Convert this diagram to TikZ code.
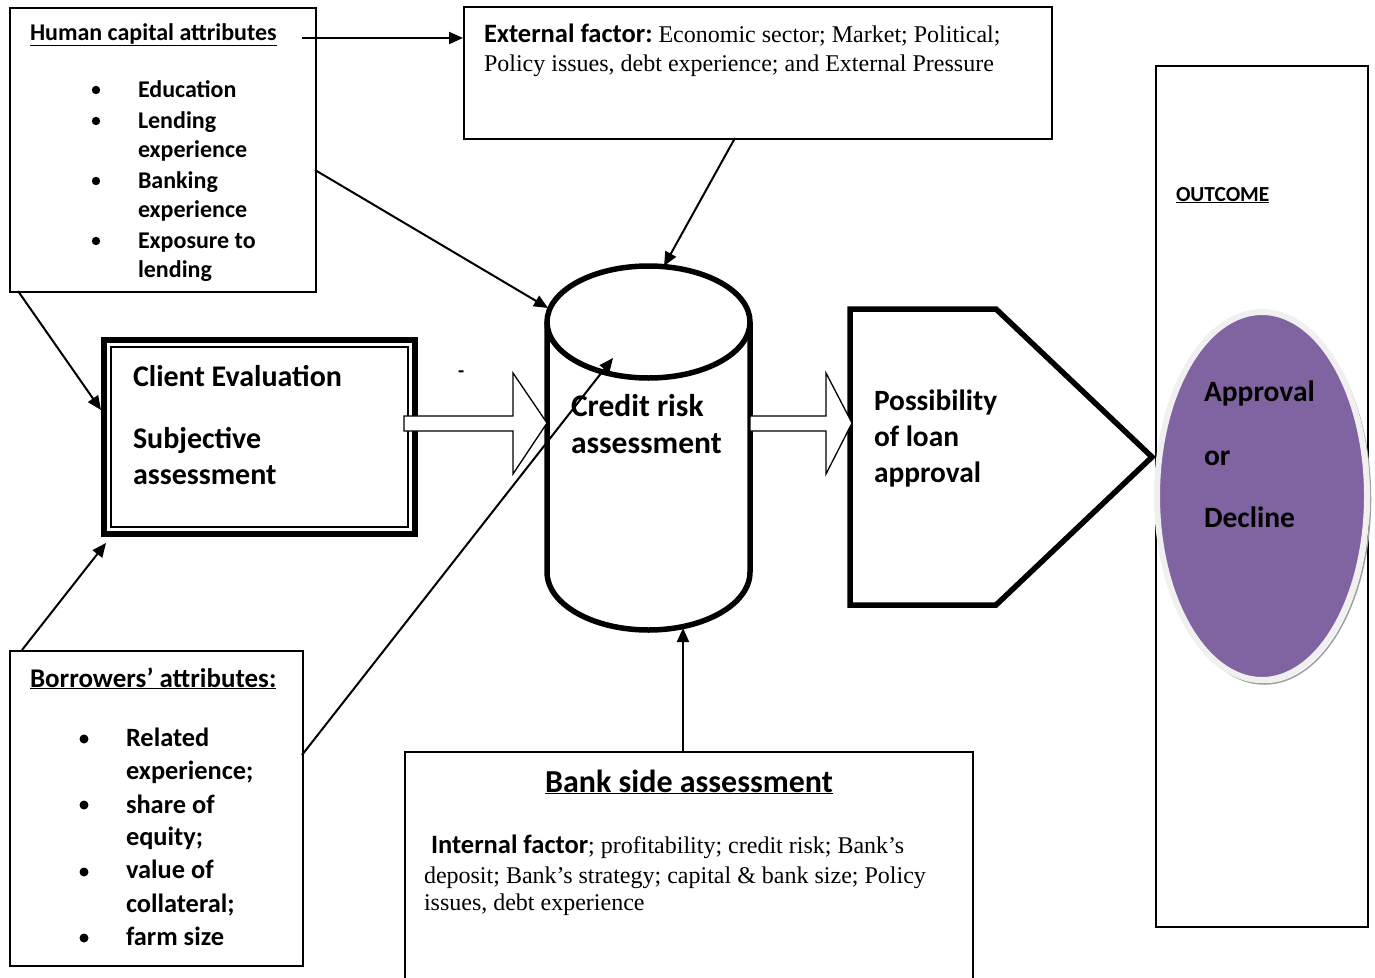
\documentclass[tikz,border=0pt]{standalone}
\usepackage{fontspec}
\setmainfont{Liberation Serif}
\newfontfamily\calib{Carlito}
\usetikzlibrary{arrows.meta,shapes.geometric}
\definecolor{purp}{HTML}{8064A2}
\definecolor{rim}{HTML}{F0F0F0}
\newcommand\cbf[1]{\calib\bfseries\fontsize{#1}{#1}\selectfont}
\newcommand\tms{\rmfamily\mdseries\fontsize{24}{29}\selectfont}
\tikzset{
  box/.style={draw, line width=1.5pt, anchor=north west, inner sep=0pt},
  conn/.style={line width=2pt, -{Triangle[length=14pt,width=12pt]}},
  txt/.style={anchor=base west, inner sep=0pt, outer sep=0pt},
  blockarrow/.style={draw, fill=white, line width=1.3pt, line join=miter},
  heavy/.style={line width=5.5pt, line join=miter},
}
\begin{document}
\begin{tikzpicture}[x=1pt,y=-1pt]
\useasboundingbox (0,0) rectangle (1375,977);

% boxes
\node[box, minimum width=306pt, minimum height=284pt] (hc) at (9,7) {};
\node[box, minimum width=588pt, minimum height=132pt] (ext) at (463,6) {};
\node[box, minimum width=212pt, minimum height=861pt] (out) at (1155,65) {};
\node[box, minimum width=293pt, minimum height=315pt] (bor) at (9,650) {};
\node[box, minimum width=568pt, minimum height=230pt] (bank) at (404,751) {};

% client evaluation double frame
\node[draw, line width=6pt, minimum width=311pt, minimum height=194pt, inner sep=0pt] (ce) at (259.5,437) {};
\node[draw, line width=1.5pt, minimum width=297pt, minimum height=180pt, inner sep=0pt] (cei) at (ce.center) {};

% cylinder
\draw[heavy] (547,322) -- (547,572) .. controls (547,604) and (592.4,630) .. (648.5,630)
  .. controls (704.6,630) and (750,604) .. (750,572) -- (750,322);
\draw[heavy] (648.5,322) ellipse [x radius=101.5pt, y radius=56pt];
\coordinate (cyl) at (648.5,450);

% pentagon
\draw[heavy] (850,309) -- (996,309) -- (1152,457) -- (996,605) -- (850,605) -- cycle;
\coordinate (pent) at (850,457);

% block arrows
\draw[blockarrow] (404,416) -- (513,416) -- (513,373) -- (547,423) -- (513,474) -- (513,431) -- (404,431) -- cycle;
\draw[blockarrow] (750,416) -- (826,416) -- (826,373) -- (852,423) -- (826,474) -- (826,431) -- (750,431) -- cycle;

% outcome ellipse
\draw[gray!75, line width=1.5pt] (1264.5,499) ellipse [x radius=106pt, y radius=185pt];
\node[ellipse, draw=rim, line width=6pt, fill=purp, minimum width=210pt, minimum height=368pt, inner sep=0pt] (dec) at (1262,496) {};

% connectors
\coordinate (a1) at (302,38);
\draw[conn] (a1) -- (a1 -| ext.west);
\coordinate (hcR) at (315,170);
\coordinate (cylL) at (548,308);
\draw[conn] (hcR) -- (cylL);
\coordinate (extB) at (735,138);
\coordinate (cylT) at (664,266);
\draw[conn] (extB) -- (cylT);
\coordinate (hcB) at (18,291);
\coordinate (ceL) at (101,410);
\draw[conn] (hcB) -- (ceL);
\coordinate (borT) at (22,650);
\coordinate (ceB) at (106,543);
\draw[conn] (borT) -- (ceB);
\coordinate (borR) at (302,755);
\coordinate (cylIn) at (613,358);
\draw[conn] (borR) -- (cylIn);
\coordinate (bankT) at (683,751);
\coordinate (cylB) at (683,628);
\draw[conn] (bankT) -- (cylB);

% human capital text
\node[txt, font=\cbf{24}] (hct) at (30,40) {\underline{Human capital attributes}};
\foreach \y/\t [count=\i] in {97/Education,128/Lending,157/experience,188/Banking,217/experience,248/Exposure to,277/lending}
  \node[txt, font=\cbf{24}] (hci\i) at (138,\y) {\t};
\foreach \y in {90,121,181,241} \fill (96,\y) circle (4.2pt);

% external text
\node[txt] (extt1) at (484,42) {{\cbf{26.5}External factor:}\tms\ Economic sector; Market; Political;};
\node[txt, font=\tms] (extt2) at (484,71) {Policy issues, debt experience; and External Pressure};

% client evaluation text
\node[txt, font=\cbf{30}] (cet1) at (133,386) {Client Evaluation};
\node[txt, font=\cbf{30}] (cet2) at (133,448) {Subjective};
\node[txt, font=\cbf{30}] (cet3) at (133,484) {assessment};
\node[txt, font=\cbf{20}] (dash) at (458,377) {-};

% credit risk
\node[txt, font=\cbf{31.5}] (crt1) at (571,416) {Credit risk};
\node[txt, font=\cbf{31.5}] (crt2) at (571,453) {assessment};

% possibility
\node[txt, font=\cbf{29.4}] (pt1) at (874,410) {Possibility};
\node[txt, font=\cbf{29.4}] (pt2) at (874,446) {of loan};
\node[txt, font=\cbf{29.4}] (pt3) at (874,482) {approval};

% outcome
\node[txt, font=\cbf{21.4}] (outt) at (1176,201) {\underline{OUTCOME}};
\node[txt, font=\cbf{29.5}] (dt1) at (1204,401) {Approval};
\node[txt, font=\cbf{29.5}] (dt2) at (1204,465) {or};
\node[txt, font=\cbf{29.5}] (dt3) at (1204,527) {Decline};

% borrowers
\node[txt, font=\cbf{27}] (bt) at (30,687) {\underline{Borrowers’ attributes:}};
\foreach \y/\t [count=\i] in {746/Related,779/experience;,813/share of,845/equity;,878/value of,912/collateral;,945/farm size}
  \node[txt, font=\cbf{26.4}] (bi\i) at (126,\y) {\t};
\foreach \y in {739,805,872,938} \fill (84,\y) circle (4.5pt);

% bank side
\node[anchor=base, inner sep=0pt, font=\cbf{32}] (bkt) at (689,792) {\underline{Bank side assessment}};
\node[txt] (bk1) at (431,853) {{\cbf{26.5}Internal factor}\tms; profitability; credit risk; Bank’s};
\node[txt, font=\tms] (bk2) at (424,883) {deposit; Bank’s strategy; capital \& bank size; Policy};
\node[txt, font=\tms] (bk3) at (424,910) {issues, debt experience};
\end{tikzpicture}
\end{document}
